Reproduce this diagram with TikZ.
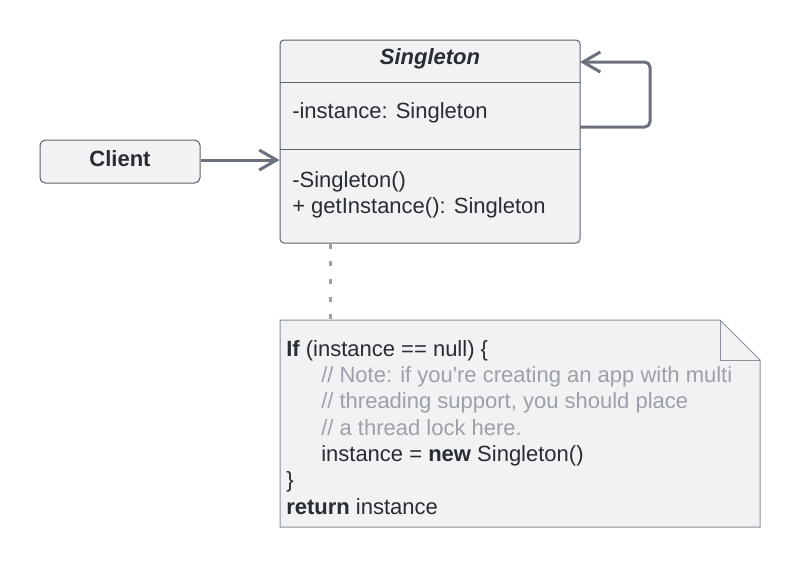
\documentclass[tikz,border=0pt]{standalone}
\usepackage{fontspec}
\setmainfont{Liberation Sans}
\usetikzlibrary{arrows.meta,positioning}

\definecolor{boxfill}{HTML}{F1F2F4}
\definecolor{boxline}{HTML}{5C616B}
\definecolor{arrowline}{HTML}{6B717C}
\definecolor{textcol}{HTML}{282C33}
\definecolor{commentcol}{HTML}{9CA0A8}
\definecolor{noteline}{HTML}{8A9099}

\begin{document}
\begin{tikzpicture}[x=0.75pt,y=-0.75pt]
    \tikzset{
      classnode/.style={rectangle,rounded corners=3pt,draw=boxline,fill=boxfill,line width=0.75pt,minimum width=225pt,minimum height=152.25pt},
      clientnode/.style={rectangle,rounded corners=4pt,draw=boxline,fill=boxfill,line width=0.75pt,minimum width=120pt,minimum height=32.25pt,text height=11.8pt,text depth=4.5pt,font=\fontsize{16.5}{19.5}\selectfont\bfseries,text=textcol},
      member/.style={inner sep=0pt,align=left,font=\fontsize{16.5}{19.75}\selectfont,text=textcol},
      sepline/.style={draw=boxline,line width=0.75pt},
      arrow/.style={-{Straight Barb[length=13pt,width=15pt,line width=2.25pt]},draw=arrowline,line width=2.25pt},
      notelink/.style={draw=commentcol,line width=2.25pt,dash pattern=on 3.75pt off 9.5pt},
      notebox/.style={draw=noteline,fill=boxfill,line width=0.75pt,line join=miter},
      comment/.style={text=commentcol}
    }
    \useasboundingbox (0,0) rectangle (800,564);

    % class box
    \node[classnode](singleton) at (430,141.5){};
    \draw[sepline] (280,82) -- (580,82);
    \draw[sepline] (280,149) -- (580,149);
    \node[member,font=\fontsize{16.5}{19.5}\selectfont\bfseries\itshape](title) at (430,59){Singleton};
    \node[member,anchor=west](attrs) at (292,113){-instance: Singleton};
    \node[member,anchor=west](methods) at (292,195){-Singleton()\\+ getInstance(): Singleton};

    \node[clientnode](client) at (120,161.5){Client};

    % note
    \draw[notebox] (280,320) -- (720,320) -- (760,360) -- (760,527) -- (280,527) -- cycle;
    \draw[notebox,fill=none] (720,320) -- (720,360) -- (760,360);
    \node[member,anchor=north west](note) at (286,340){%
      \textbf{If} (instance == null) \{\\
      \hspace*{26.25pt}{\color{commentcol}// Note: if you\textquotesingle re creating an app with multi}\\
      \hspace*{26.25pt}{\color{commentcol}// threading support, you should place}\\
      \hspace*{26.25pt}{\color{commentcol}// a thread lock here.}\\
      \hspace*{26.25pt}instance = \textbf{new} Singleton()\\
      \}\\
      \textbf{return} instance};

    \coordinate (loopout) at (580,127);
    \coordinate (loopin) at (580,62);
    \coordinate (notetop) at (330,320);

    \draw[arrow]([yshift=1.1pt]client.east) -- ([yshift=1.1pt]client.east -| singleton.west);
    \draw[arrow,rounded corners=4pt](loopout) -- (650,127) -- (650,62) -- (loopin);
    \draw[notelink](notetop |- singleton.south) -- (notetop);
\end{tikzpicture}
\end{document}
